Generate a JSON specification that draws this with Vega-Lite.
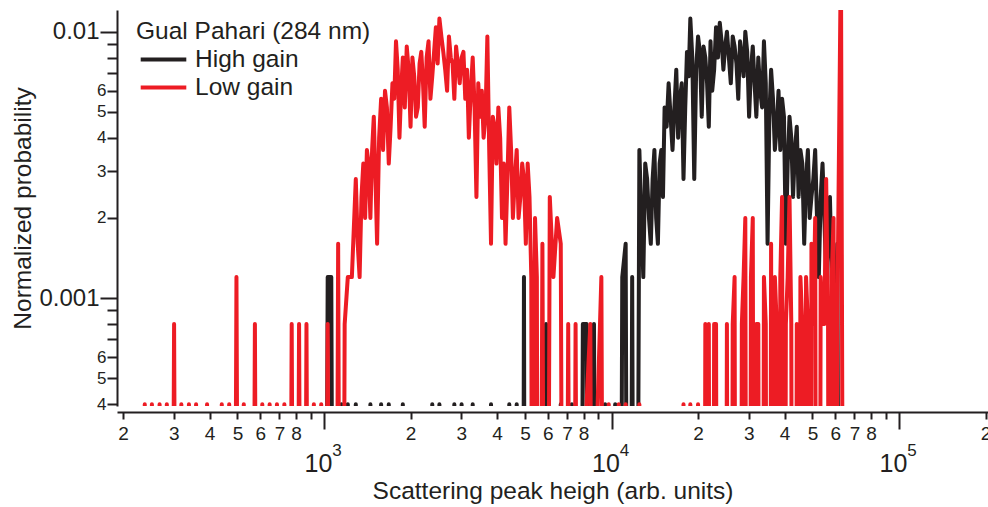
{
  "$schema": "https://vega.github.io/schema/vega-lite/v6.json",
  "width": 871,
  "height": 396,
  "autosize": {"type": "none"},
  "padding": {"left": 117, "top": 10, "right": 0, "bottom": 101},
  "background": "white",
  "config": {
    "view": {"stroke": null},
    "font": "Liberation Sans",
    "axis": {"grid": false, "domainColor": "#231f20", "domainWidth": 2, "tickColor": "#231f20", "tickWidth": 2, "labelColor": "#231f20", "titleColor": "#231f20", "labelFont": "Liberation Sans", "titleFont": "Liberation Sans", "titleFontWeight": "normal", "labelFlush": false, "labelOverlap": false, "labelBound": false}
  },
  "data": {"values": [
    {"x":231,"High gain":0,"Low gain":0},{"x":238,"High gain":0,"Low gain":0.0004},{"x":245,"High gain":0,"Low gain":0},{"x":252,"High gain":0,"Low gain":0.0004},{"x":260,"High gain":0,"Low gain":0},{"x":268,"High gain":0,"Low gain":0.0004},{"x":276,"High gain":0,"Low gain":0},{"x":284,"High gain":0,"Low gain":0.0004},{"x":292,"High gain":0,"Low gain":0},{"x":301,"High gain":0,"Low gain":0.0008},{"x":310,"High gain":0,"Low gain":0},{"x":319,"High gain":0,"Low gain":0.0004},{"x":329,"High gain":0,"Low gain":0},{"x":339,"High gain":0,"Low gain":0.0004},{"x":349,"High gain":0,"Low gain":0},{"x":359,"High gain":0,"Low gain":0.0004},{"x":370,"High gain":0,"Low gain":0},{"x":381,"High gain":0,"Low gain":0},{"x":392,"High gain":0,"Low gain":0.0004},{"x":404,"High gain":0,"Low gain":0},{"x":416,"High gain":0,"Low gain":0},{"x":428,"High gain":0,"Low gain":0},{"x":441,"High gain":0,"Low gain":0.0004},{"x":454,"High gain":0,"Low gain":0},{"x":468,"High gain":0,"Low gain":0.0004},{"x":482,"High gain":0,"Low gain":0},{"x":496,"High gain":0,"Low gain":0.0012},{"x":511,"High gain":0,"Low gain":0},{"x":526,"High gain":0,"Low gain":0.0004},{"x":542,"High gain":0,"Low gain":0},{"x":558,"High gain":0,"Low gain":0},{"x":575,"High gain":0,"Low gain":0.0008},{"x":592,"High gain":0,"Low gain":0},{"x":610,"High gain":0,"Low gain":0.0004},{"x":628,"High gain":0,"Low gain":0},{"x":647,"High gain":0,"Low gain":0.0004},{"x":666,"High gain":0,"Low gain":0},{"x":686,"High gain":0,"Low gain":0.0004},{"x":707,"High gain":0,"Low gain":0},{"x":728,"High gain":0,"Low gain":0.0004},{"x":750,"High gain":0,"Low gain":0},{"x":772,"High gain":0,"Low gain":0.0008},{"x":795,"High gain":0,"Low gain":0},{"x":819,"High gain":0,"Low gain":0.0008},{"x":844,"High gain":0,"Low gain":0},{"x":869,"High gain":0,"Low gain":0.0008},{"x":895,"High gain":0,"Low gain":0},{"x":922,"High gain":0,"Low gain":0.0004},{"x":950,"High gain":0,"Low gain":0},{"x":978,"High gain":0,"Low gain":0.0004},
    {"x":1000,"High gain":0,"Low gain":0},{"x":1030,"High gain":0.0012,"Low gain":0.0008},{"x":1060,"High gain":0.0012,"Low gain":0},{"x":1090,"High gain":0,"Low gain":0},{"x":1120,"High gain":0,"Low gain":0.0016},{"x":1150,"High gain":0.0004,"Low gain":0},{"x":1180,"High gain":0,"Low gain":0.0008},{"x":1210,"High gain":0.0004,"Low gain":0.0012},{"x":1250,"High gain":0,"Low gain":0.0012},
    {"x":1290,"High gain":0.0004,"Low gain":0.0028},{"x":1310,"High gain":0,"Low gain":0.0016},{"x":1330,"High gain":0,"Low gain":0.0012},{"x":1350,"High gain":0,"Low gain":0.0024},{"x":1370,"High gain":0,"Low gain":0.0032},{"x":1390,"High gain":0,"Low gain":0.002},{"x":1410,"High gain":0,"Low gain":0.0036},{"x":1430,"High gain":0,"Low gain":0.0032},{"x":1450,"High gain":0.0004,"Low gain":0.002},{"x":1470,"High gain":0,"Low gain":0.0036},{"x":1490,"High gain":0,"Low gain":0.0048},{"x":1510,"High gain":0,"Low gain":0.0028},{"x":1530,"High gain":0,"Low gain":0.0016},{"x":1555,"High gain":0,"Low gain":0.004},{"x":1580,"High gain":0.0004,"Low gain":0.0056},{"x":1605,"High gain":0,"Low gain":0.0036},{"x":1630,"High gain":0,"Low gain":0.006},{"x":1655,"High gain":0,"Low gain":0.0052},{"x":1680,"High gain":0.0004,"Low gain":0.0032},{"x":1705,"High gain":0,"Low gain":0.0044},{"x":1730,"High gain":0,"Low gain":0.0064},{"x":1755,"High gain":0,"Low gain":0.0056},{"x":1780,"High gain":0,"Low gain":0.0092},{"x":1805,"High gain":0,"Low gain":0.0072},{"x":1830,"High gain":0,"Low gain":0.004},{"x":1855,"High gain":0,"Low gain":0.006},{"x":1880,"High gain":0.0004,"Low gain":0.008},{"x":1910,"High gain":0,"Low gain":0.0052},{"x":1940,"High gain":0,"Low gain":0.0088},{"x":1970,"High gain":0,"Low gain":0.0072},{"x":2000,"High gain":0,"Low gain":0.0044},{"x":2030,"High gain":0,"Low gain":0.008},{"x":2060,"High gain":0,"Low gain":0.0068},{"x":2090,"High gain":0,"Low gain":0.0048},{"x":2120,"High gain":0,"Low gain":0.0052},{"x":2150,"High gain":0,"Low gain":0.0076},{"x":2180,"High gain":0,"Low gain":0.0084},{"x":2210,"High gain":0,"Low gain":0.0064},{"x":2240,"High gain":0,"Low gain":0.0044},{"x":2275,"High gain":0,"Low gain":0.008},{"x":2310,"High gain":0,"Low gain":0.0092},{"x":2345,"High gain":0,"Low gain":0.0056},{"x":2380,"High gain":0.0004,"Low gain":0.0068},{"x":2415,"High gain":0,"Low gain":0.0084},{"x":2450,"High gain":0,"Low gain":0.0104},{"x":2485,"High gain":0,"Low gain":0.0076},{"x":2520,"High gain":0.0004,"Low gain":0.0112},{"x":2560,"High gain":0,"Low gain":0.0096},{"x":2600,"High gain":0,"Low gain":0.0084},{"x":2640,"High gain":0,"Low gain":0.0072},{"x":2680,"High gain":0,"Low gain":0.006},{"x":2720,"High gain":0,"Low gain":0.0096},{"x":2760,"High gain":0,"Low gain":0.008},{"x":2800,"High gain":0,"Low gain":0.0076},{"x":2840,"High gain":0.0004,"Low gain":0.0056},{"x":2880,"High gain":0,"Low gain":0.0088},{"x":2920,"High gain":0,"Low gain":0.0076},{"x":2965,"High gain":0,"Low gain":0.0064},{"x":3010,"High gain":0.0004,"Low gain":0.008},{"x":3055,"High gain":0,"Low gain":0.0084},{"x":3100,"High gain":0,"Low gain":0.0056},{"x":3145,"High gain":0,"Low gain":0.0072},{"x":3190,"High gain":0,"Low gain":0.004},{"x":3240,"High gain":0,"Low gain":0.006},{"x":3290,"High gain":0.0004,"Low gain":0.008},{"x":3340,"High gain":0,"Low gain":0.0052},{"x":3390,"High gain":0,"Low gain":0.0024},{"x":3440,"High gain":0,"Low gain":0.0064},{"x":3490,"High gain":0,"Low gain":0.0048},{"x":3540,"High gain":0,"Low gain":0.006},{"x":3590,"High gain":0,"Low gain":0.004},{"x":3645,"High gain":0,"Low gain":0.0048},{"x":3700,"High gain":0,"Low gain":0.0096},{"x":3755,"High gain":0,"Low gain":0.0036},{"x":3810,"High gain":0.0004,"Low gain":0.0016},{"x":3865,"High gain":0,"Low gain":0.0048},{"x":3920,"High gain":0,"Low gain":0.0044},{"x":3980,"High gain":0,"Low gain":0.0032},{"x":4040,"High gain":0,"Low gain":0.0052},{"x":4100,"High gain":0,"Low gain":0.004},{"x":4160,"High gain":0,"Low gain":0.002},{"x":4220,"High gain":0,"Low gain":0.0032},{"x":4280,"High gain":0,"Low gain":0.0016},{"x":4345,"High gain":0,"Low gain":0.0028},{"x":4410,"High gain":0.0004,"Low gain":0.0052},{"x":4475,"High gain":0,"Low gain":0.0036},{"x":4540,"High gain":0,"Low gain":0.002},{"x":4610,"High gain":0,"Low gain":0.0028},{"x":4680,"High gain":0.0004,"Low gain":0.0036},{"x":4750,"High gain":0,"Low gain":0.002},{"x":4820,"High gain":0,"Low gain":0.0024},{"x":4890,"High gain":0,"Low gain":0.0032},{"x":4960,"High gain":0.0012,"Low gain":0.0028},{"x":5035,"High gain":0,"Low gain":0.0016},{"x":5110,"High gain":0,"Low gain":0.0032},{"x":5185,"High gain":0,"Low gain":0.0024},{"x":5260,"High gain":0,"Low gain":0.0012},{"x":5340,"High gain":0,"Low gain":0},{"x":5420,"High gain":0.0004,"Low gain":0.002},{"x":5500,"High gain":0,"Low gain":0.0012},
    {"x":5580,"High gain":0,"Low gain":0},{"x":5750,"High gain":0,"Low gain":0.0016},{"x":5920,"High gain":0.0008,"Low gain":0},{"x":6100,"High gain":0,"Low gain":0.0024},{"x":6280,"High gain":0,"Low gain":0.0012},{"x":6470,"High gain":0,"Low gain":0.002},{"x":6660,"High gain":0.0004,"Low gain":0.0016},{"x":6860,"High gain":0,"Low gain":0},{"x":7070,"High gain":0,"Low gain":0.0008},{"x":7280,"High gain":0.0004,"Low gain":0},{"x":7500,"High gain":0,"Low gain":0.0008},{"x":7720,"High gain":0,"Low gain":0},{"x":7950,"High gain":0.0008,"Low gain":0},{"x":8190,"High gain":0.0008,"Low gain":0.0004},{"x":8440,"High gain":0,"Low gain":0.0008},{"x":8690,"High gain":0.0008,"Low gain":0},{"x":8950,"High gain":0,"Low gain":0.0004},{"x":9220,"High gain":0,"Low gain":0.0012},{"x":9500,"High gain":0.0004,"Low gain":0},{"x":9780,"High gain":0,"Low gain":0.0004},
    {"x":10000,"High gain":0,"Low gain":0},{"x":10300,"High gain":0.0004,"Low gain":0},{"x":10600,"High gain":0,"Low gain":0.0004},{"x":10900,"High gain":0.0012,"Low gain":0},{"x":11200,"High gain":0.0016,"Low gain":0.0004},{"x":11500,"High gain":0,"Low gain":0},{"x":11800,"High gain":0.0012,"Low gain":0},{"x":12100,"High gain":0,"Low gain":0},
    {"x":12500,"High gain":0.0036,"Low gain":0.0004},{"x":12700,"High gain":0.002,"Low gain":0},{"x":12900,"High gain":0.0012,"Low gain":0},{"x":13100,"High gain":0.0032,"Low gain":0},{"x":13300,"High gain":0.0028,"Low gain":0},{"x":13500,"High gain":0.002,"Low gain":0},{"x":13700,"High gain":0.0016,"Low gain":0},{"x":13900,"High gain":0.0028,"Low gain":0},{"x":14100,"High gain":0.0036,"Low gain":0},{"x":14300,"High gain":0.002,"Low gain":0},{"x":14500,"High gain":0.0016,"Low gain":0},{"x":14700,"High gain":0.0032,"Low gain":0},{"x":14900,"High gain":0.0036,"Low gain":0},{"x":15100,"High gain":0.0024,"Low gain":0},{"x":15300,"High gain":0.0052,"Low gain":0},{"x":15550,"High gain":0.0044,"Low gain":0},{"x":15800,"High gain":0.0064,"Low gain":0},{"x":16050,"High gain":0.0048,"Low gain":0},{"x":16300,"High gain":0.0036,"Low gain":0},{"x":16550,"High gain":0.0052,"Low gain":0},{"x":16800,"High gain":0.0072,"Low gain":0},{"x":17050,"High gain":0.004,"Low gain":0},{"x":17300,"High gain":0.0056,"Low gain":0},{"x":17550,"High gain":0.0064,"Low gain":0},{"x":17800,"High gain":0.0028,"Low gain":0.0004},{"x":18050,"High gain":0.0052,"Low gain":0},{"x":18300,"High gain":0.0084,"Low gain":0},{"x":18550,"High gain":0.0068,"Low gain":0},{"x":18800,"High gain":0.0112,"Low gain":0.0004},{"x":19100,"High gain":0.008,"Low gain":0},{"x":19400,"High gain":0.0028,"Low gain":0},{"x":19700,"High gain":0.0072,"Low gain":0},{"x":20000,"High gain":0.0096,"Low gain":0.0004},{"x":20300,"High gain":0.0084,"Low gain":0},{"x":20600,"High gain":0.0048,"Low gain":0},{"x":20900,"High gain":0.0088,"Low gain":0},{"x":21200,"High gain":0.008,"Low gain":0.0008},{"x":21500,"High gain":0.0064,"Low gain":0},{"x":21800,"High gain":0.0044,"Low gain":0.0008},{"x":22100,"High gain":0.0092,"Low gain":0},{"x":22400,"High gain":0.006,"Low gain":0},{"x":22750,"High gain":0.0072,"Low gain":0.0008},{"x":23100,"High gain":0.0104,"Low gain":0.0008},{"x":23450,"High gain":0.008,"Low gain":0},{"x":23800,"High gain":0.0108,"Low gain":0},{"x":24150,"High gain":0.0092,"Low gain":0},{"x":24500,"High gain":0.0072,"Low gain":0},{"x":24850,"High gain":0.0088,"Low gain":0},{"x":25200,"High gain":0.01,"Low gain":0.0008},{"x":25600,"High gain":0.008,"Low gain":0},{"x":26000,"High gain":0.0064,"Low gain":0},{"x":26400,"High gain":0.0096,"Low gain":0.0008},{"x":26800,"High gain":0.0088,"Low gain":0.0012},{"x":27200,"High gain":0.0076,"Low gain":0},{"x":27600,"High gain":0.0056,"Low gain":0},{"x":28000,"High gain":0.0092,"Low gain":0},{"x":28400,"High gain":0.008,"Low gain":0.0008},{"x":28800,"High gain":0.0068,"Low gain":0.0012},{"x":29200,"High gain":0.01,"Low gain":0.002},{"x":29650,"High gain":0.0084,"Low gain":0},{"x":30100,"High gain":0.0048,"Low gain":0},{"x":30550,"High gain":0.0072,"Low gain":0.0012},{"x":31000,"High gain":0.0088,"Low gain":0.002},{"x":31450,"High gain":0.0064,"Low gain":0},{"x":31900,"High gain":0.0048,"Low gain":0.0008},{"x":32400,"High gain":0.008,"Low gain":0.0008},{"x":32900,"High gain":0.006,"Low gain":0},{"x":33400,"High gain":0.0052,"Low gain":0},{"x":33900,"High gain":0.0092,"Low gain":0.0012},{"x":34400,"High gain":0.0064,"Low gain":0.0008},{"x":34900,"High gain":0.0016,"Low gain":0},{"x":35400,"High gain":0.0048,"Low gain":0},{"x":35900,"High gain":0.0072,"Low gain":0.0016},{"x":36450,"High gain":0.0056,"Low gain":0},{"x":37000,"High gain":0.0036,"Low gain":0.0012},{"x":37550,"High gain":0.0044,"Low gain":0.0008},{"x":38100,"High gain":0.006,"Low gain":0},{"x":38650,"High gain":0.0036,"Low gain":0.0012},{"x":39200,"High gain":0.0056,"Low gain":0.0024},{"x":39800,"High gain":0.0048,"Low gain":0},{"x":40400,"High gain":0.0016,"Low gain":0.0008},{"x":41000,"High gain":0.0032,"Low gain":0.0012},{"x":41600,"High gain":0.0048,"Low gain":0.0024},{"x":42200,"High gain":0.004,"Low gain":0.0008},{"x":42800,"High gain":0.0024,"Low gain":0},{"x":43450,"High gain":0.0036,"Low gain":0},{"x":44100,"High gain":0.0044,"Low gain":0.0008},{"x":44750,"High gain":0.0024,"Low gain":0},{"x":45400,"High gain":0.0036,"Low gain":0.0012},{"x":46100,"High gain":0.0032,"Low gain":0.0008},{"x":46800,"High gain":0.0016,"Low gain":0},{"x":47500,"High gain":0.0028,"Low gain":0.0012},{"x":48200,"High gain":0.0036,"Low gain":0.0008},{"x":48900,"High gain":0.002,"Low gain":0},{"x":49600,"High gain":0.0024,"Low gain":0.0016},{"x":50350,"High gain":0.0028,"Low gain":0.0008},{"x":51100,"High gain":0.0036,"Low gain":0.002},{"x":51850,"High gain":0.002,"Low gain":0},{"x":52600,"High gain":0.0012,"Low gain":0},{"x":53400,"High gain":0.0024,"Low gain":0.0012},{"x":54200,"High gain":0.0032,"Low gain":0.0008},{"x":55000,"High gain":0.002,"Low gain":0.0008},{"x":55800,"High gain":0.0012,"Low gain":0.0028},{"x":56650,"High gain":0.0016,"Low gain":0.0008},{"x":57500,"High gain":0.0024,"Low gain":0},{"x":58350,"High gain":0.0012,"Low gain":0.0012},{"x":59200,"High gain":0.0008,"Low gain":0.002},{"x":60100,"High gain":0.0008,"Low gain":0},{"x":61000,"High gain":0.0016,"Low gain":0.0008},{"x":62800,"High gain":0,"Low gain":0.02},{"x":64700,"High gain":0,"Low gain":0}
  ]},
  "transform": [{"fold": ["High gain", "Low gain"], "as": ["gain", "p"]}],
  "layer": [
    {
      "mark": {"type": "line", "strokeWidth": 4, "clip": true, "strokeJoin": "round", "strokeCap": "butt"},
      "encoding": {
        "x": {"field": "x", "type": "quantitative",
          "scale": {"type": "log", "domain": [190.55, 203950], "nice": false, "zero": false},
          "axis": {"orient": "bottom", "offset": 6, "values": [200,300,400,500,600,700,800,900,2000,3000,4000,5000,6000,7000,8000,9000,20000,30000,40000,50000,60000,70000,80000,90000,200000],
            "tickSize": 7, "labelFontSize": 19, "labelPadding": 5,
            "labelExpr": "round(datum.value / pow(10, floor(log(datum.value) / LN10 + 1e-9))) >= 9 ? '' : '' + round(datum.value / pow(10, floor(log(datum.value) / LN10 + 1e-9)))",
            "title": "Scattering peak heigh (arb. units)", "titleFontSize": 24.5, "titlePadding": 36}},
        "y": {"field": "p", "type": "quantitative",
          "scale": {"type": "symlog", "constant": 4e-7, "domain": [0.0003939, 0.012061], "nice": false, "zero": false},
          "axis": {"orient": "left", "values": [0.001, 0.01], "tickSize": 17, "labelFontSize": 24, "labelPadding": 1,
            "labelExpr": "datum.value > 0.005 ? '0.01' : '0.001'",
            "title": "Normalized probability", "titleFontSize": 24.5, "titlePadding": 3}},
        "color": {"field": "gain", "type": "nominal",
          "scale": {"domain": ["High gain", "Low gain"], "range": ["#231f20", "#ed1c24"]},
          "legend": {"title": "Gual Pahari (284 nm)", "orient": "none", "legendX": 19, "legendY": 10, "padding": 0,
            "symbolType": "M-1.9,0H1.9", "symbolStrokeWidth": 4, "symbolSize": 576, "symbolOffset": 13.5, "labelOffset": 17.5,
            "titleFontSize": 24.5, "labelFontSize": 24.5, "titleFontWeight": "normal", "titleFont": "Liberation Sans", "labelFont": "Liberation Sans",
            "titleLimit": 600, "labelLimit": 600,
            "titleColor": "#231f20", "labelColor": "#231f20", "rowPadding": 2, "titlePadding": 1}}
      }
    },
    {
      "mark": {"type": "point", "opacity": 0},
      "encoding": {
        "x": {"field": "x", "type": "quantitative",
          "scale": {"type": "log", "domain": [190.55, 203950], "nice": false, "zero": false},
          "axis": {"orient": "bottom", "offset": 6, "values": [1000, 10000, 100000], "tickSize": 17, "domain": false,
            "labelExpr": "'10'", "labelFontSize": 25, "labelPadding": 22, "labelOffset": -6, "title": null}},
        "y": {"field": "p", "type": "quantitative",
          "scale": {"type": "symlog", "constant": 4e-7, "domain": [0.0003939, 0.012061], "nice": false, "zero": false},
          "axis": {"orient": "left", "values": [0.0004,0.0005,0.0006,0.0007,0.0008,0.0009,0.002,0.003,0.004,0.005,0.006,0.007,0.008,0.009],
            "tickSize": 10, "domain": false, "labelFontSize": 17, "labelPadding": 1,
            "labelExpr": "round(datum.value / pow(10, floor(log(datum.value) / LN10 + 1e-9))) >= 7 ? '' : '' + round(datum.value / pow(10, floor(log(datum.value) / LN10 + 1e-9)))",
            "title": null}}
      }
    },
    {
      "mark": {"type": "point", "opacity": 0},
      "encoding": {
        "x": {"field": "x", "type": "quantitative",
          "scale": {"type": "log", "domain": [190.55, 203950], "nice": false, "zero": false},
          "axis": {"orient": "bottom", "offset": 6, "values": [1000, 10000, 100000], "ticks": false, "tickSize": 0, "domain": false,
            "labelExpr": "'' + round(log(datum.value) / LN10)", "labelFontSize": 17, "labelPadding": 30, "labelOffset": 12.5, "title": null}}
      }
    }
  ],
  "resolve": {"axis": {"x": "independent", "y": "independent"}}
}
